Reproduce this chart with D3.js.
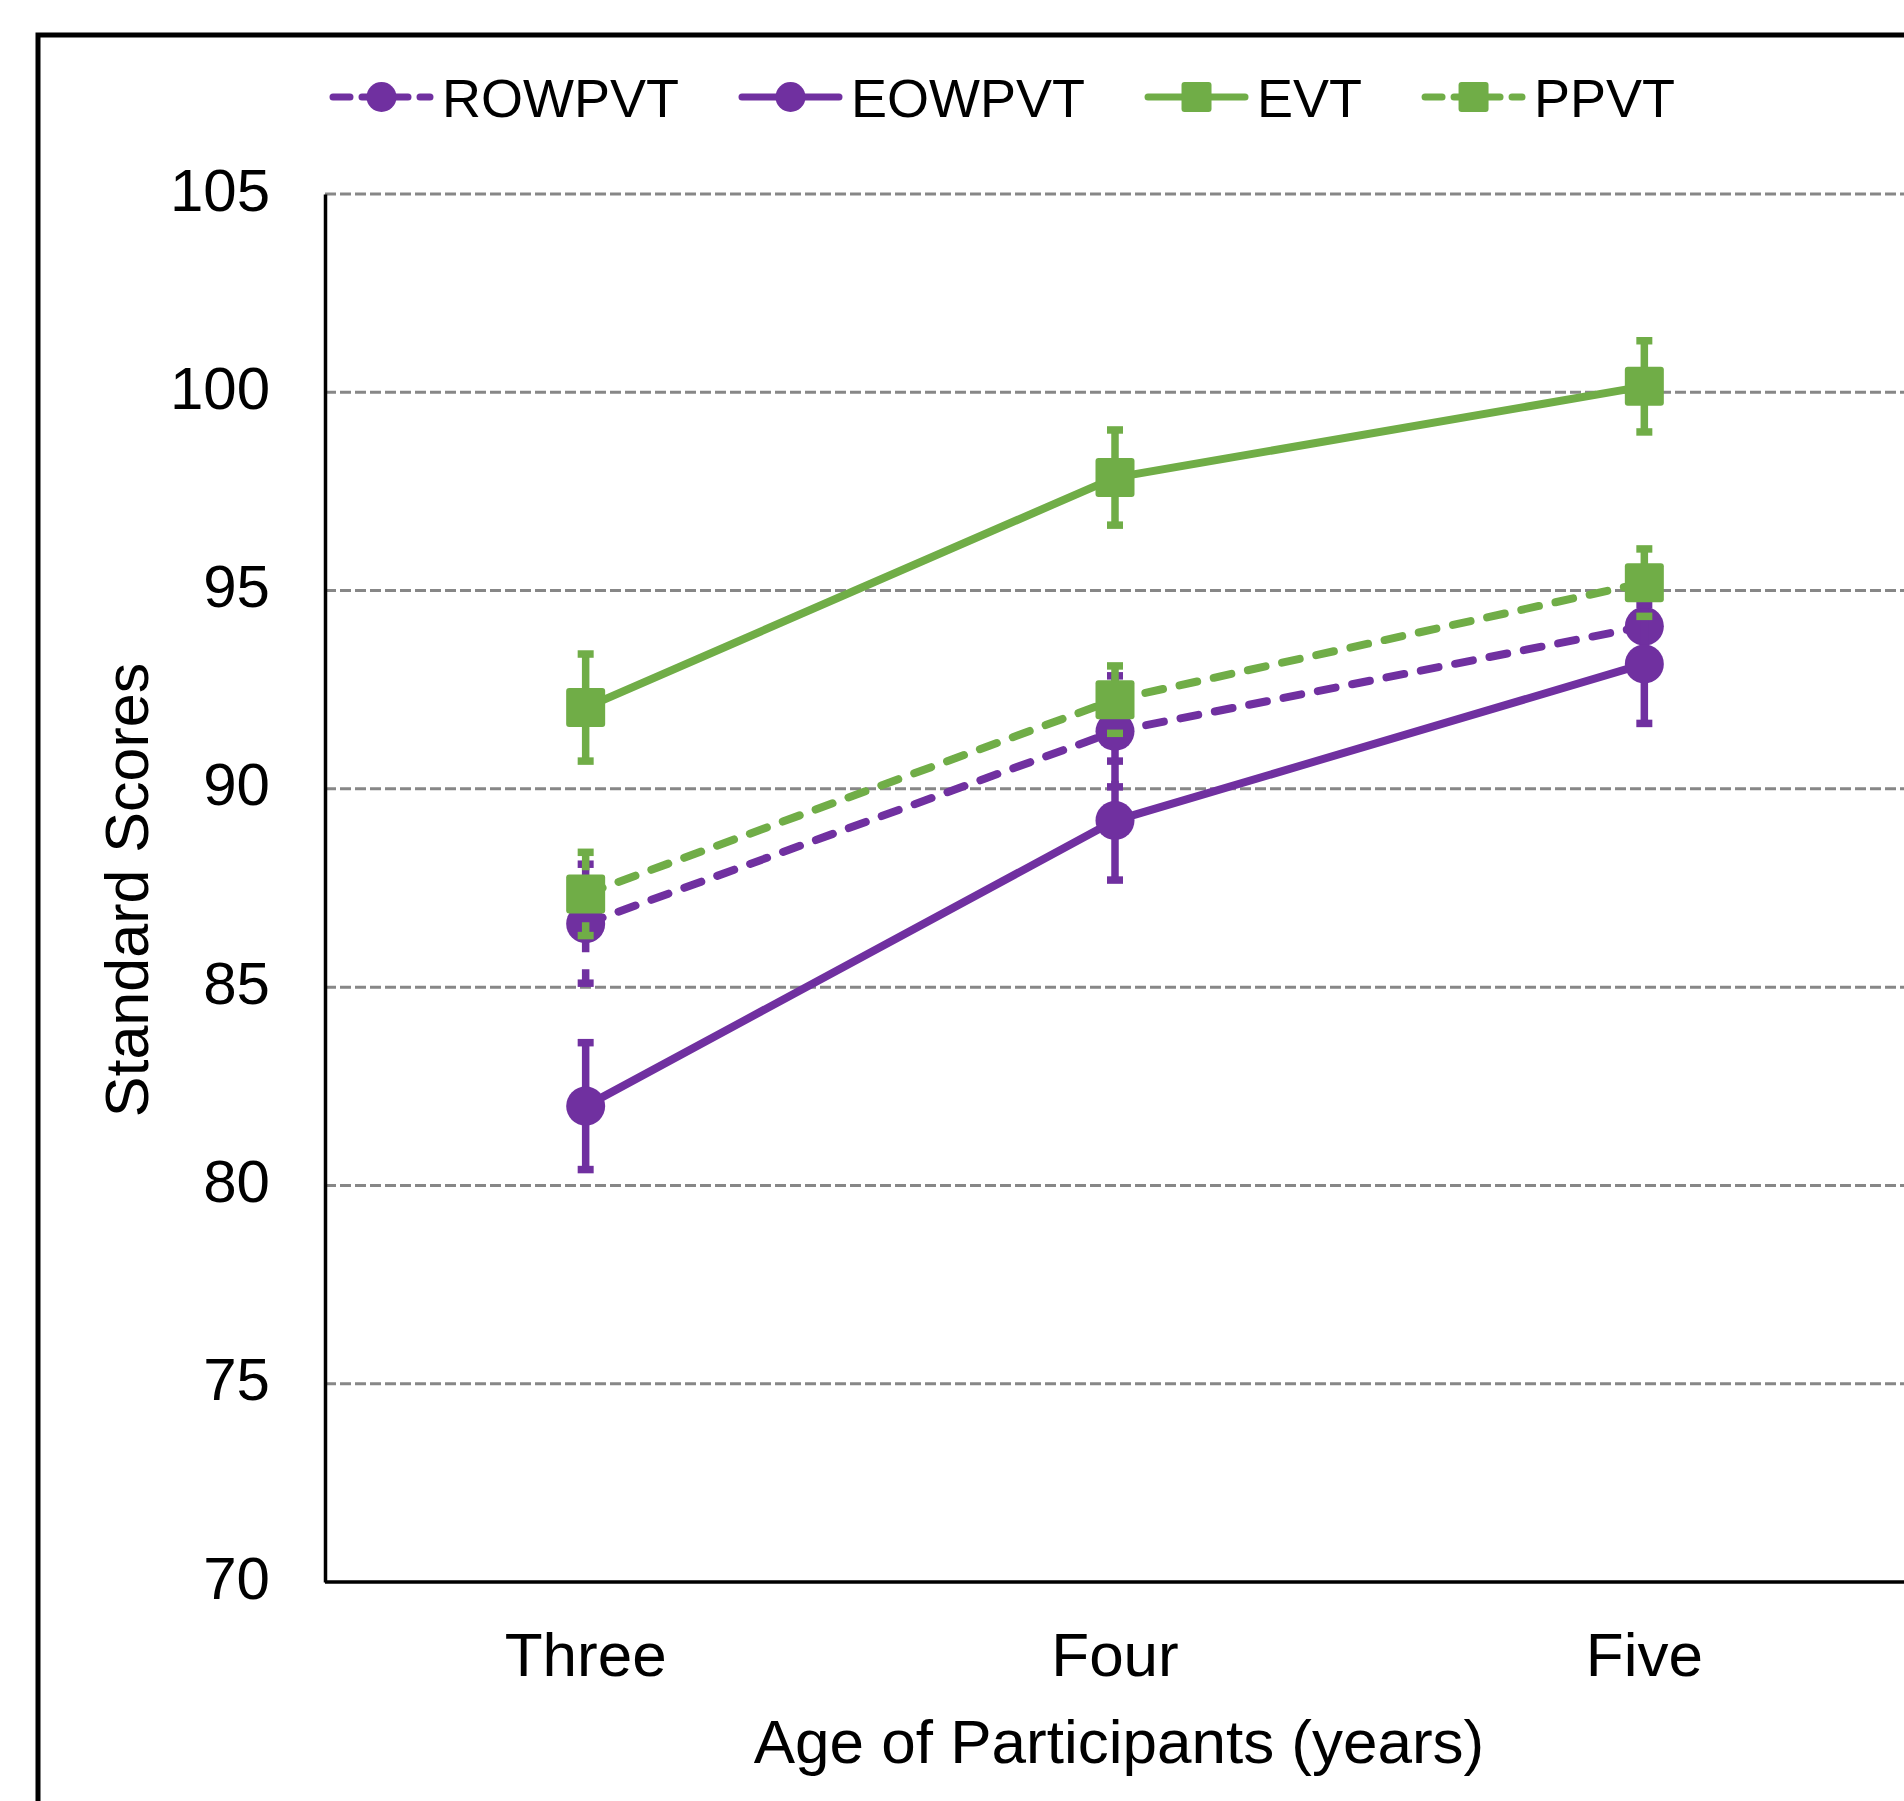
<!DOCTYPE html>
<html>
<head>
<meta charset="utf-8">
<script src="https://cdn.jsdelivr.net/npm/d3@7"></script>
<style>
  body { margin: 0; background: #fff; }
  text { font-family: "Liberation Sans", Arial, sans-serif; fill: #000; }
</style>
</head>
<body>
<script>
'use strict';

// categories and tick values
const ages = ["Three", "Four", "Five"]
const yTicks = [70, 75, 80, 85, 90, 95, 100, 105]

// series values (means) and error bar half-widths
const rowpvt = [86.6, 91.45, 94.1]
const rowpvtErr = [1.5, 1.4, 1.2]
const eowpvt = [82.0, 89.2, 93.15]
const eowpvtErr = [1.6, 1.5, 1.5]
const evt = [92.05, 97.85, 100.15]
const evtErr = [1.35, 1.2, 1.15]
const ppvt = [87.35, 92.25, 95.2]
const ppvtErr = [1.05, 0.85, 0.85]

const purple = "#7030A0"
const green = "#70AD47"

const m = {
  width: 1904,
  height: 1801,
  axisX: 325,
  left: 321,
  right: 1909,
  top: 194,
  bottom: 1582
}

// series table built from the arrays above
const series = [
  {name: "ROWPVT", vals: rowpvt, errs: rowpvtErr, color: purple, dashed: true, shape: "circle"},
  {name: "EOWPVT", vals: eowpvt, errs: eowpvtErr, color: purple, dashed: false, shape: "circle"},
  {name: "EVT", vals: evt, errs: evtErr, color: green, dashed: false, shape: "square"},
  {name: "PPVT", vals: ppvt, errs: ppvtErr, color: green, dashed: true, shape: "square"}
]

const dash = "18,17"

let svg = d3.select("body")
  .append("svg")
  .attr("width", m.width)
  .attr("height", m.height)

// outer chart frame (runs off the right and bottom edge)
svg.append("rect")
  .attr("x", 38)
  .attr("y", 35)
  .attr("width", 2000)
  .attr("height", 2000)
  .style("fill", "none")
  .style("stroke", "#000")
  .style("stroke-width", 5)

let x = d3.scaleBand()
  .domain(ages)
  .range([m.left, m.right])

let y = d3.scaleLinear()
  .domain([70, 105])
  .range([m.bottom, m.top])

const xc = (i) => x(ages[i]) + x.bandwidth() / 2

// dashed gridlines
svg.append("g")
  .selectAll("line")
  .data(yTicks.filter(d => d > 70))
  .enter()
  .append("line")
    .attr("x1", m.axisX)
    .attr("x2", m.width)
    .attr("y1", d => y(d))
    .attr("y2", d => y(d))
    .style("stroke", "#878787")
    .style("stroke-width", 3)
    .style("stroke-dasharray", "11,4")

// y axis
let yAxis = d3.axisLeft(y).tickValues(yTicks).tickSize(0).tickPadding(0)
let gy = svg.append("g")
  .attr("transform", "translate(" + m.axisX + ",0)")
  .call(yAxis)
gy.select(".domain").style("stroke", "#000").style("stroke-width", 3.5)
gy.selectAll(".tick text")
  .attr("x", 270 - m.axisX)
  .attr("dy", "16")
  .style("text-anchor", "end")
  .style("font-size", "60px")
  .style("font-family", "'Liberation Sans', Arial, sans-serif")

// x axis
let xAxis = d3.axisBottom(x).tickSize(0).tickPadding(0)
let gx = svg.append("g")
  .attr("transform", "translate(0," + m.bottom + ")")
  .call(xAxis)
gx.select(".domain")
  .attr("d", "M" + m.axisX + ",0H" + m.width)
  .style("stroke", "#000").style("stroke-width", 3.5)
gx.selectAll(".tick text")
  .attr("y", 94)
  .attr("dy", "0")
  .style("font-size", "62px")
  .style("font-family", "'Liberation Sans', Arial, sans-serif")

// axis titles
svg.append("text")
  .attr("x", 1119)
  .attr("y", 1763)
  .style("text-anchor", "middle")
  .style("font-size", "62px")
  .text("Age of Participants (years)")

svg.append("text")
  .attr("transform", "translate(148, 890)rotate(-90)")
  .style("text-anchor", "middle")
  .style("font-size", "61px")
  .text("Standard Scores")

function drawMarker(g, shape, cx, cy, size, color) {
  if (shape == "circle") {
    g.append("circle")
      .attr("cx", cx)
      .attr("cy", cy)
      .attr("r", size / 2)
      .style("fill", color)
  } else {
    g.append("rect")
      .attr("x", cx - size / 2)
      .attr("y", cy - size / 2)
      .attr("width", size)
      .attr("height", size)
      .attr("rx", 3)
      .style("fill", color)
  }
}

// series: error bars, line, then markers
let line = d3.line()
  .x((d, i) => xc(i))
  .y(d => y(d))

series.forEach(s => {
  let g = svg.append("g").attr("class", "series")

  s.vals.forEach((v, i) => {
    let hi = y(v + s.errs[i])
    let lo = y(v - s.errs[i])
    g.append("line")
      .attr("x1", xc(i)).attr("x2", xc(i))
      .attr("y1", hi).attr("y2", lo)
      .style("stroke", s.color)
      .style("stroke-width", 7.5)
      .style("stroke-dasharray", s.dashed ? dash : null)
    ;[hi, lo].forEach(cy => {
      g.append("line")
        .attr("x1", xc(i) - 8).attr("x2", xc(i) + 8)
        .attr("y1", cy).attr("y2", cy)
        .style("stroke", s.color)
        .style("stroke-width", 7.5)
    })
  })

  g.append("path")
    .datum(s.vals)
    .attr("d", line)
    .style("fill", "none")
    .style("stroke", s.color)
    .style("stroke-width", 8)
    .style("stroke-linecap", s.dashed ? "round" : "butt")
    .style("stroke-dasharray", s.dashed ? dash : null)

  s.vals.forEach((v, i) => drawMarker(g, s.shape, xc(i), y(v), 39, s.color))
})

// legend
let lx = 330
const ly = 97
series.forEach(s => {
  let g = svg.append("g").attr("class", "legend-item")
  g.append("line")
    .attr("x1", lx + 3).attr("x2", lx + 100)
    .attr("y1", ly).attr("y2", ly)
    .style("stroke", s.color)
    .style("stroke-width", 7)
    .style("stroke-linecap", "round")
    .style("stroke-dasharray", s.dashed ? "17,12" : null)
  drawMarker(g, s.shape, lx + 51.5, ly, 30, s.color)
  let t = g.append("text")
    .attr("x", lx + 112)
    .attr("y", 117)
    .style("font-size", "54px")
    .text(s.name)
  lx = lx + 112 + t.node().getComputedTextLength() + 60
})
</script>
</body>
</html>
